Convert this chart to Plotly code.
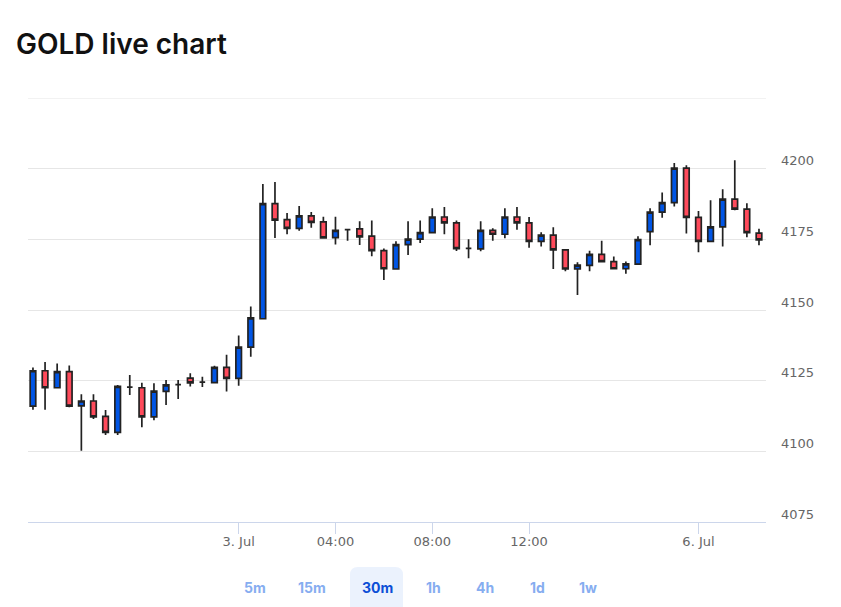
import plotly.graph_objects as go

# ---- data (30m candles, ordinal index) ----
opens = [4116.0, 4128.5, 4122.5, 4128.2, 4116.1, 4117.8, 4112.4, 4106.7, 4122.7, 4122.5,
         4112.2, 4121.2, 4123.6, 4125.9, 4124.5, 4124.3, 4129.7, 4125.8, 4136.9, 4146.9,
         4187.6, 4182.0, 4178.9, 4183.3, 4181.2, 4175.6, 4178.4, 4178.7, 4176.1, 4171.0,
         4164.5, 4173.1, 4175.1, 4177.4, 4182.9, 4180.8, 4171.8, 4171.6, 4178.2, 4176.8,
         4182.9, 4180.8, 4174.3, 4176.5, 4171.3, 4164.5, 4165.8, 4169.7, 4167.1, 4164.6,
         4166.2, 4177.7, 4184.6, 4188.0, 4200.2, 4182.8, 4174.3, 4179.4, 4189.2, 4185.7,
         4177.2]
highs = [4129.7, 4131.6, 4131.1, 4130.4, 4120.2, 4120.2, 4114.6, 4123.5, 4127.0, 4124.3,
         4124.1, 4125.2, 4125.2, 4127.6, 4126.4, 4130.3, 4134.2, 4141.0, 4151.2, 4194.6,
         4195.3, 4184.3, 4186.8, 4184.7, 4183.0, 4183.0, 4178.6, 4181.4, 4181.7, 4171.8,
         4174.3, 4181.4, 4181.7, 4186.0, 4186.4, 4181.7, 4175.0, 4181.4, 4178.9, 4186.0,
         4186.4, 4182.9, 4177.5, 4179.3, 4171.4, 4166.9, 4171.0, 4174.5, 4168.9, 4167.2,
         4176.1, 4186.0, 4191.6, 4202.0, 4201.2, 4185.0, 4188.8, 4192.7, 4203.0, 4187.8,
         4178.7]
lows = [4114.7, 4114.7, 4122.3, 4115.6, 4100.2, 4111.4, 4105.8, 4105.8, 4119.9, 4108.5,
        4111.0, 4116.4, 4118.5, 4122.9, 4122.8, 4124.1, 4121.2, 4123.2, 4133.5, 4146.6,
        4175.5, 4176.8, 4178.0, 4179.1, 4175.4, 4173.2, 4174.5, 4173.0, 4169.0, 4160.6,
        4164.4, 4169.5, 4173.7, 4177.3, 4176.8, 4170.9, 4168.3, 4170.8, 4174.5, 4175.4,
        4178.4, 4172.0, 4172.5, 4164.5, 4163.7, 4155.3, 4163.7, 4167.0, 4164.5, 4162.8,
        4166.1, 4172.9, 4182.6, 4186.6, 4177.1, 4170.4, 4174.2, 4172.5, 4185.3, 4175.7,
        4172.9]
closes = [4128.5, 4122.5, 4128.2, 4116.0, 4117.8, 4112.2, 4106.7, 4123.0, 4122.7, 4112.2,
          4121.3, 4123.5, 4123.6, 4124.2, 4124.5, 4129.7, 4125.8, 4136.9, 4147.2, 4187.6,
          4181.8, 4178.9, 4183.3, 4181.0, 4175.5, 4178.2, 4178.4, 4175.9, 4171.0, 4164.6,
          4173.1, 4175.1, 4177.4, 4182.9, 4180.8, 4171.7, 4171.8, 4178.2, 4176.8, 4182.9,
          4180.8, 4174.3, 4176.5, 4171.3, 4164.5, 4165.9, 4169.7, 4167.1, 4164.6, 4166.3,
          4174.9, 4184.6, 4188.0, 4200.2, 4182.8, 4174.3, 4179.4, 4189.2, 4185.7, 4177.4,
          4174.8]
x_index = list(range(len(opens)))

x_tick_pos = [17, 25, 33, 41, 55]
x_tick_text = ["3. Jul", "04:00", "08:00", "12:00", "6. Jul"]
y_tick_vals = [4075, 4100, 4125, 4150, 4175, 4200, 4225]
y_tick_text = ["4075", "4100", "4125", "4150", "4175", "4200", ""]
y_top = 4225
buttons = ["5m", "15m", "30m", "1h", "4h", "1d", "1w"]
button_px = [255, 312, 377, 433, 485, 537, 588]
selected = "30m"

W, H = 841, 607
ML, MR, MT, MB = 28, 75, 98, 85
PW, PH = W - ML - MR, H - MT - MB


def px_x(p):
    return (p - ML) / PW


def px_y(p):
    return 1 - (p - MT) / PH


fig = go.Figure(go.Candlestick(
    x=x_index, open=opens, high=highs, low=lows, close=closes,
    increasing=dict(fillcolor="#0055e5", line=dict(color="#222222", width=1.7)),
    decreasing=dict(fillcolor="#ff4a5b", line=dict(color="#222222", width=1.7)),
    whiskerwidth=0, hoverinfo="skip",
))

annotations = []
for b, bx in zip(buttons, button_px):
    annotations.append(dict(
        text=f"<b>{b}</b>", x=px_x(bx), y=px_y(587), xref="paper", yref="paper",
        showarrow=False, xanchor="center", yanchor="middle",
        font=dict(family="Inter", size=14,
                  color="#0b4fd6" if b == selected else "#86adf0"),
    ))

# rounded selected-button background
x0, x1, y0, y1, r = 350, 403, 567, 612, 8
X = lambda p: px_x(p)
Y = lambda p: px_y(p)
path = (f"M {X(x0 + r)},{Y(y0)} L {X(x1 - r)},{Y(y0)} "
        f"Q {X(x1)},{Y(y0)} {X(x1)},{Y(y0 + r)} L {X(x1)},{Y(y1)} "
        f"L {X(x0)},{Y(y1)} L {X(x0)},{Y(y0 + r)} Q {X(x0)},{Y(y0)} {X(x0 + r)},{Y(y0)} Z")

fig.update_layout(
    width=W, height=H,
    margin=dict(l=ML, r=MR, t=MT, b=MB),
    paper_bgcolor="white", plot_bgcolor="white",
    showlegend=False,
    boxgap=0.34,
    title=dict(text="GOLD live chart", x=16 / W, xanchor="left", xref="container",
               y=1 - 44 / H, yanchor="middle", yref="container",
               font=dict(family="Inter", size=28, color="#111111", weight=600)),
    xaxis=dict(
        range=[-0.41, 60.58], rangeslider=dict(visible=False),
        tickmode="array", tickvals=x_tick_pos, ticktext=x_tick_text,
        showgrid=False, zeroline=False,
        showline=True, linecolor="#ccd6eb", linewidth=1,
        ticks="outside", ticklen=11, tickcolor="#ccd6eb", tickwidth=1,
        ticklabelstandoff=-4,
        tickfont=dict(family="DejaVu Sans", size=13, color="#666666"),
        fixedrange=True,
    ),
    yaxis=dict(
        side="right", range=[4075, y_top],
        tickmode="array", tickvals=y_tick_vals, ticktext=y_tick_text,
        showgrid=True, gridcolor="#e6e6e6", gridwidth=1,
        zeroline=False, showline=False, ticks="",
        ticklabelstandoff=14, ticklabelshift=-8,
        tickfont=dict(family="DejaVu Sans", size=13, color="#666666"),
        fixedrange=True,
    ),
    annotations=annotations,
    shapes=[
        dict(type="path", path=path, xref="paper", yref="paper",
             fillcolor="#ebf2fd", line=dict(width=0), layer="below"),
        dict(type="line", xref="paper", yref="y", x0=0, x1=1, y0=y_top, y1=y_top,
             line=dict(color="#e6e6e6", width=1), layer="below"),
    ],
)

fig.write_html("out.html")
